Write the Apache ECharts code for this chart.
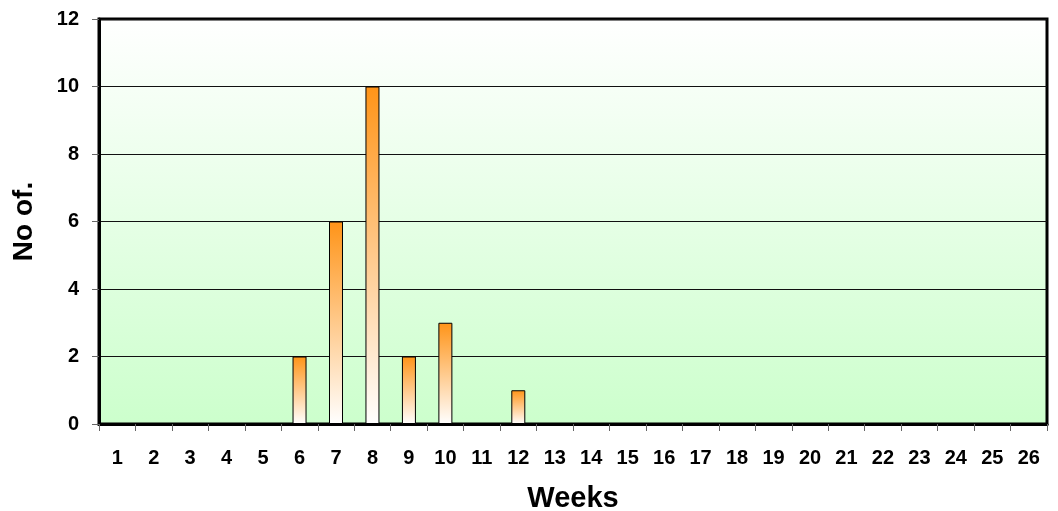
<!DOCTYPE html>
<html>
<head>
<meta charset="utf-8">
<script src="https://cdn.jsdelivr.net/npm/echarts@6/dist/echarts.min.js"></script>
<style>
  html, body { margin: 0; padding: 0; background: #ffffff; }
  #chart { width: 1058px; height: 511px; }
</style>
</head>
<body>
<div id="chart"></div>
<script>
// Weekly counts
const weeks = ['1','2','3','4','5','6','7','8','9','10','11','12','13','14','15','16','17','18','19','20','21','22','23','24','25','26'];
const counts = [0,0,0,0,0,2,6,10,2,3,0,1,0,0,0,0,0,0,0,0,0,0,0,0,0,0];
const yTicks = [0, 2, 4, 6, 8, 10, 12];

const chart = echarts.init(document.getElementById('chart'));
const font = 'Arial, "Liberation Sans", sans-serif';

chart.setOption({
  animation: false,
  grid: {
    left: 99, right: 11, top: 19, bottom: 87,
    containLabel: false,
    outerBoundsMode: 'none',
    show: true,
    borderColor: '#000',
    borderWidth: 3,
    backgroundColor: new echarts.graphic.LinearGradient(0, 0, 0, 1, [
      { offset: 0, color: '#ffffff' },
      { offset: 1, color: '#ccffcc' }
    ])
  },
  xAxis: {
    type: 'category',
    data: weeks,
    name: 'Weeks',
    nameLocation: 'middle',
    nameGap: 60,
    nameTextStyle: { fontFamily: font, fontSize: 29, fontWeight: 'bold', color: '#000' },
    axisLine: { lineStyle: { color: '#000', width: 3 } },
    axisTick: { show: true, length: 7, lineStyle: { color: '#666', width: 1 } },
    axisLabel: { fontFamily: font, fontSize: 20, fontWeight: 'bold', color: '#000', margin: 24 }
  },
  yAxis: {
    type: 'value',
    min: yTicks[0],
    max: yTicks[yTicks.length - 1],
    interval: 2,
    name: 'No of.',
    nameLocation: 'middle',
    nameGap: 61,
    nameRotate: 90,
    nameTextStyle: { fontFamily: font, fontSize: 28, fontWeight: 'bold', color: '#000' },
    axisLine: { show: true, lineStyle: { color: '#000', width: 3 } },
    axisTick: { show: true, length: 7, lineStyle: { color: '#666', width: 1 } },
    axisLabel: { fontFamily: font, fontSize: 20, fontWeight: 'bold', color: '#000', margin: 20 },
    splitLine: { show: true, lineStyle: { color: '#111', width: 1 } }
  },
  series: [{
    type: 'bar',
    data: counts,
    barWidth: 14,
    itemStyle: {
      borderColor: '#000',
      borderWidth: 1,
      color: new echarts.graphic.LinearGradient(0, 0, 0, 1, [
        { offset: 0, color: '#ff9418' },
        { offset: 1, color: '#ffffff' }
      ])
    }
  }]
});
</script>
</body>
</html>
